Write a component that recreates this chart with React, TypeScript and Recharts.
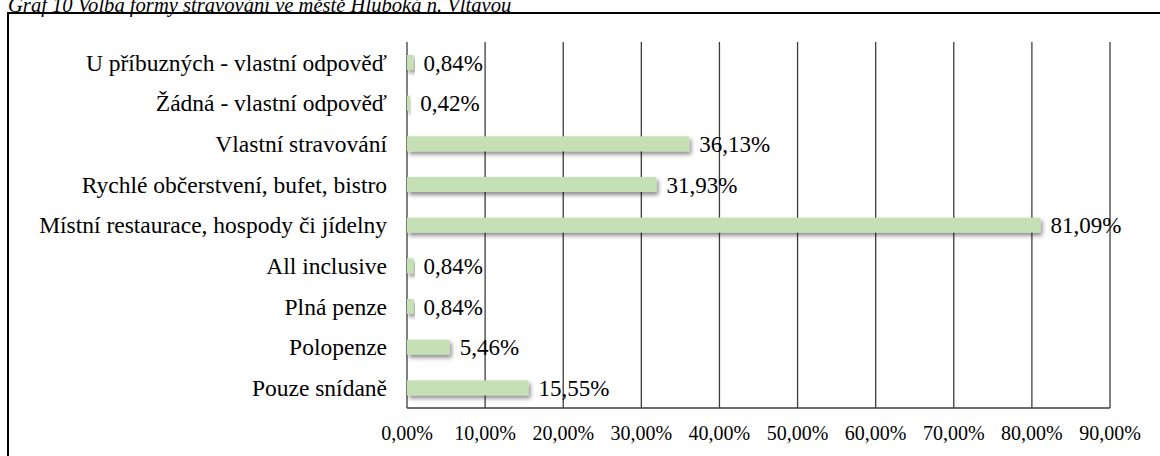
import { BarChart, Bar, XAxis, YAxis, CartesianGrid, LabelList } from "recharts";

const categories = [
  "U příbuzných - vlastní odpověď",
  "Žádná - vlastní odpověď",
  "Vlastní stravování ",
  "Rychlé občerstvení, bufet, bistro",
  "Místní restaurace, hospody či jídelny",
  "All inclusive",
  "Plná penze",
  "Polopenze",
  "Pouze snídaně",
];

const shares = [0.84, 0.42, 36.13, 31.93, 81.09, 0.84, 0.84, 5.46, 15.55];

const xTicks = [0, 10, 20, 30, 40, 50, 60, 70, 80, 90];

const title = "Graf 10 Volba formy stravování ve městě Hluboká n. Vltavou";

const FONT = '"Liberation Serif", "Times New Roman", serif';
const BAR_COLOR = "#C5E0B4";
const GRID_COLOR = "#3d3d3d";

const fmt = (v: number) => v.toFixed(2).replace(".", ",") + "%";

const chartData = categories.map((name, i) => ({ name, value: shares[i] }));

const BarShape = (props: any) => {
  const { x, y, width, height } = props;
  return (
    <rect
      x={x}
      y={y}
      width={Math.max(width, 0)}
      height={height}
      fill={BAR_COLOR}
      filter="url(#barShadow)"
    />
  );
};

export default function App() {
  return (
    <div
      style={{
        position: "absolute",
        left: 0,
        top: 0,
        width: 1160,
        height: 456,
        overflow: "hidden",
        background: "#fff",
        fontFamily: FONT,
      }}
    >
      <style>{`.recharts-wrapper text, .recharts-wrapper tspan { font-family: "Liberation Serif", "Times New Roman", serif !important; }`}</style>
      <div
        style={{
          position: "absolute",
          left: 8,
          top: -5,
          fontSize: 20.6,
          lineHeight: "21px",
          fontStyle: "italic",
          whiteSpace: "nowrap",
        }}
      >
        {title}
      </div>
      <div
        style={{
          position: "absolute",
          left: 7,
          top: 12,
          width: 1170,
          height: 470,
          border: "2.5px solid #000",
          boxSizing: "border-box",
        }}
      />
      <div style={{ position: "absolute", left: 0, top: 0 }}>
        <BarChart
          width={1160}
          height={456}
          data={chartData}
          layout="vertical"
          margin={{ top: 42, right: 50, bottom: 0, left: 0 }}
          barSize={15}
          style={{ fontFamily: FONT }}
        >
          <defs>
            <filter id="barShadow" x="-10%" y="-50%" width="130%" height="250%">
              <feDropShadow dx="2" dy="3" stdDeviation="2" floodColor="#000" floodOpacity="0.45" />
            </filter>
          </defs>
          <CartesianGrid horizontal={false} stroke={GRID_COLOR} strokeWidth={1.3} />
          <XAxis
            type="number"
            domain={[0, 90]}
            ticks={xTicks}
            tickFormatter={fmt}
            axisLine={{ stroke: GRID_COLOR, strokeWidth: 1.3 }}
            tickLine={false}
            tickSize={0}
            tickMargin={18}
            height={48}
            interval={0}
            tick={{ fill: "#000", fontSize: 20, fontFamily: FONT }}
          />
          <YAxis
            type="category"
            dataKey="name"
            width={407}
            axisLine={false}
            tickLine={false}
            tickSize={0}
            tickMargin={20}
            interval={0}
            tick={{ fill: "#000", fontSize: 23.5, fontFamily: FONT }}
          />
          <Bar dataKey="value" shape={BarShape} isAnimationActive={false}>
            <LabelList
              dataKey="value"
              position="right"
              offset={10}
              formatter={(v: any) => fmt(Number(v))}
              style={{ fill: "#000", fontSize: 23, fontFamily: FONT }}
            />
          </Bar>
        </BarChart>
      </div>
    </div>
  );
}
